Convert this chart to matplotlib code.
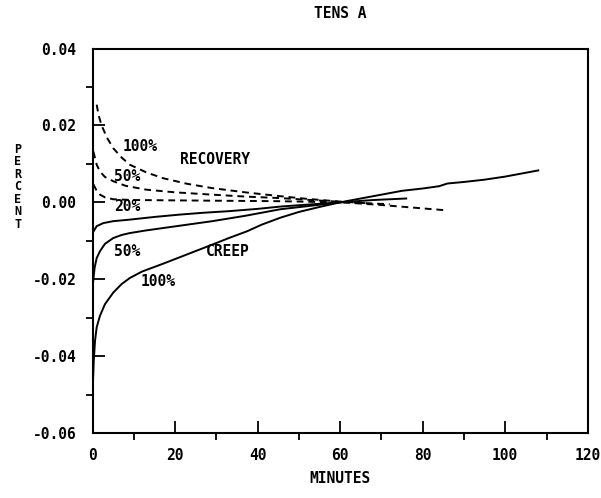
import numpy as np
import matplotlib
matplotlib.use("Agg")
import matplotlib.pyplot as plt
from matplotlib.ticker import MultipleLocator

# creep curves (solid), minutes vs percent
creep_100_t = [0.05, 0.3, 0.6, 1.0, 1.8, 3, 5, 7, 9, 12, 17, 23, 29, 33, 37.5, 41, 45.5,
               50, 55, 60, 65, 70, 75, 80, 84, 86, 90, 95, 100, 104, 108]
creep_100 = [-0.048, -0.041, -0.036, -0.0325, -0.0295, -0.0265, -0.0235, -0.0213, -0.0197,
             -0.018, -0.016, -0.0135, -0.011, -0.0093, -0.0075, -0.0058, -0.004,
             -0.0025, -0.0012, 0.0, 0.001, 0.002, 0.003, 0.0036, 0.0042, 0.0049,
             0.0053, 0.0059, 0.0067, 0.0075, 0.0083]

creep_50_t = [0.1, 0.5, 1, 1.8, 3, 5, 7, 9, 13, 17, 23, 29, 37, 45.5, 52, 60, 62]
creep_50 = [-0.021, -0.017, -0.0145, -0.0127, -0.0108, -0.0093, -0.0085, -0.008,
            -0.0073, -0.0067, -0.0058, -0.0049, -0.0035, -0.0018, -0.001, 0.0, 0.0002]

creep_20_t = [0.1, 1, 2.6, 5, 9, 15, 21, 27, 33, 40, 45.5, 52, 60, 68, 76]
creep_20 = [-0.0078, -0.0062, -0.0054, -0.0049, -0.0045, -0.0038, -0.0032, -0.0027,
            -0.0023, -0.0017, -0.0011, -0.0006, 0.0, 0.0006, 0.001]

# recovery curves (dashed)
recovery_100_t = [1.0, 1.5, 2.2, 3.5, 5, 7, 9, 13, 17, 23, 29, 37, 45.5, 52, 60, 66]
recovery_100 = [0.0254, 0.0225, 0.020, 0.0168, 0.0141, 0.0117, 0.0098, 0.0078, 0.0063,
                0.0048, 0.0037, 0.0026, 0.0016, 0.0009, 0.0002, -0.0002]

recovery_50_t = [0.2, 1, 1.8, 3, 5, 8, 13, 20, 29, 37, 45.5, 53, 62, 72]
recovery_50 = [0.0132, 0.0098, 0.008, 0.0066, 0.0055, 0.0043, 0.0033, 0.0026, 0.002,
               0.0015, 0.0011, 0.0006, 0.0, -0.0005]

recovery_20_t = [0.2, 1, 1.8, 3, 5, 10, 21, 33, 45, 55, 62, 70, 78, 86]
recovery_20 = [0.0047, 0.003, 0.002, 0.0013, 0.0008, 0.0006, 0.0005, 0.0004, 0.0003,
               0.0001, -0.0001, -0.0007, -0.0014, -0.0021]

x_ticks = [0, 20, 40, 60, 80, 100, 120]
y_ticks = [-0.06, -0.04, -0.02, 0.00, 0.02, 0.04]

plt.rcParams['font.family'] = 'DejaVu Sans Mono'
plt.rcParams['font.weight'] = 'bold'

fig = plt.figure(figsize=(6.01, 4.98), dpi=100)
ax = fig.add_axes([0.154, 0.1305, 0.824, 0.772])

lw = 1.4
ax.plot(creep_100_t, creep_100, color='black', lw=lw)
ax.plot(creep_50_t, creep_50, color='black', lw=lw)
ax.plot(creep_20_t, creep_20, color='black', lw=lw)
dash = (0, (3.5, 2.5))
ax.plot(recovery_100_t, recovery_100, color='black', lw=lw, linestyle=dash)
ax.plot(recovery_50_t, recovery_50, color='black', lw=lw, linestyle=dash)
ax.plot(recovery_20_t, recovery_20, color='black', lw=lw, linestyle=dash)

fs = 10.5
ax.text(11.5, 0.0145, '100%', fontsize=fs, ha='center', va='center')
ax.text(29.7, 0.0112, 'RECOVERY', fontsize=fs, ha='center', va='center')
ax.text(8.4, 0.0068, '50%', fontsize=fs, ha='center', va='center')
ax.text(8.4, -0.001, '20%', fontsize=fs, ha='center', va='center')
ax.text(8.4, -0.0127, '50%', fontsize=fs, ha='center', va='center')
ax.text(32.8, -0.0127, 'CREEP', fontsize=fs, ha='center', va='center')
ax.text(15.9, -0.0205, '100%', fontsize=fs, ha='center', va='center')

ax.set_xlim(0, 120)
ax.set_ylim(-0.06, 0.04)
ax.set_xticks(x_ticks)
ax.set_xticklabels([str(v) for v in x_ticks])
ax.set_yticks(y_ticks)
ax.set_yticklabels(['%.2f' % v for v in y_ticks])
ax.xaxis.set_minor_locator(MultipleLocator(10))
ax.yaxis.set_minor_locator(MultipleLocator(0.01))
ax.tick_params(which='major', direction='in', length=8.6, width=1.3, labelsize=10.5)
ax.tick_params(axis='x', which='major', pad=11)
ax.tick_params(axis='y', which='major', pad=11.5)
ax.tick_params(which='minor', direction='out', length=5, width=1.3)
for s in ax.spines.values():
    s.set_linewidth(1.5)

fig.text(0.566, 0.972, 'TENS A', fontsize=10.5, ha='center', va='center')
fig.text(0.566, 0.04, 'MINUTES', fontsize=10.5, ha='center', va='center')
fig.text(0.03, 0.625, '\n'.join('PERCENT'), fontsize=8.5, ha='center', va='center',
         linespacing=0.95)

fig.savefig('out.png', dpi=100)
